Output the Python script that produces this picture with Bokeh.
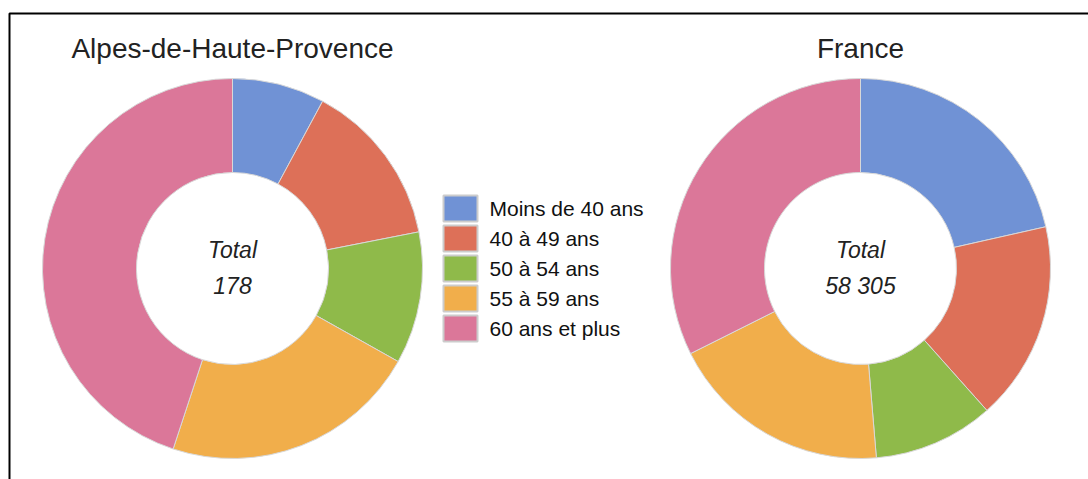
import numpy as np
from bokeh.plotting import figure
from bokeh.models import Range1d, BoxAnnotation, ColumnDataSource
from bokeh.core.properties import value
from bokeh.embed import file_html
from bokeh.resources import INLINE

# ---- data ----
categories = ["Moins de 40 ans", "40 à 49 ans", "50 à 54 ans", "55 à 59 ans", "60 ans et plus"]
colors = ["#7092d5", "#dd7058", "#8fba4a", "#f1ae4b", "#db7799"]
titles = ["Alpes-de-Haute-Provence", "France"]
dept_values = [14, 25, 20, 39, 80]
france_values = [12520, 9880, 5976, 11045, 18884]

FONT = value("Liberation Sans")
W, H = 1088, 479

p = figure(width=W, height=H, output_backend="svg", toolbar_location=None,
           x_range=Range1d(0, W), y_range=Range1d(0, H),
           x_axis_location=None, y_axis_location=None, min_border=0)
p.grid.visible = False
p.outline_line_color = None
p.background_fill_color = "white"
p.border_fill_color = "white"

def sy(y):
    # screen y -> data y
    return H - y

# border (frame around the chart)
p.add_layout(BoxAnnotation(left=9, right=1200, top=sy(13), bottom=-20,
                           fill_alpha=0, line_color="black", line_alpha=1.0,
                           line_width=2))

centers = [232, 860]
for vals, cx, title in zip([dept_values, france_values], centers, titles):
    v = np.array(vals, dtype=float)
    frac = v / v.sum()
    cum = np.concatenate([[0], np.cumsum(frac)])
    start = np.pi / 2 - cum[:-1] * 2 * np.pi
    end = np.pi / 2 - cum[1:] * 2 * np.pi
    src = ColumnDataSource(dict(start=start, end=end, color=colors, cat=categories))
    p.annular_wedge(x=cx, y=sy(268), inner_radius=96, outer_radius=190,
                    inner_radius_units="screen", outer_radius_units="screen",
                    start_angle="start", end_angle="end", direction="clock",
                    fill_color="color", line_color="#d8d8d8", line_width=1, source=src)
    p.text(x=[cx], y=[sy(48)], text=[title], text_font=FONT, text_font_size="28px",
           text_align="center", text_baseline="middle", text_color="#222222")
    total = f"{int(v.sum()):,}".replace(",", " ")
    p.text(x=[cx, cx], y=[sy(249), sy(285)], text=["Total", total], text_font=FONT,
           text_font_size="23px", text_font_style="italic",
           text_align="center", text_baseline="middle", text_color="#222222")

# legend
ly = [sy(208 + 30 * i) for i in range(len(categories))]
p.rect(x=[460] * len(categories), y=ly, width=34, height=26,
       width_units="screen", height_units="screen",
       fill_color=colors, line_color="#cccccc", line_width=2)
p.text(x=[489] * len(categories), y=ly, text=categories, text_font=FONT,
       text_font_size="21px", text_align="left", text_baseline="middle",
       text_color="#111111")

open("out.html", "w").write(file_html(p, INLINE))
